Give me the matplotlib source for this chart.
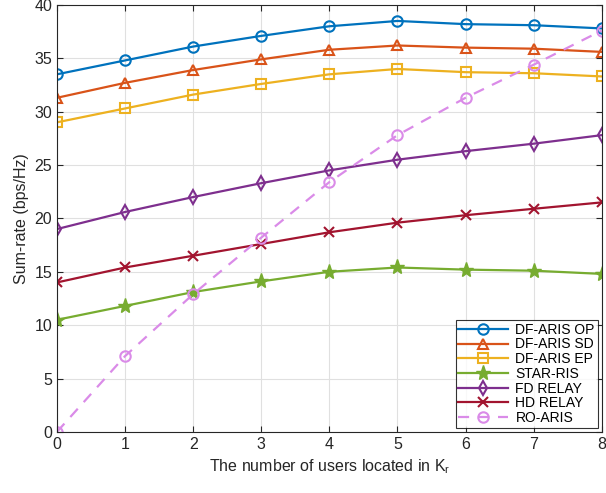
import matplotlib
matplotlib.use("Agg")
import matplotlib.pyplot as plt

plt.rcParams['font.family'] = ['Liberation Sans', 'DejaVu Sans']

users = [0, 1, 2, 3, 4, 5, 6, 7, 8]
df_op = [33.5, 34.8, 36.1, 37.1, 38.0, 38.5, 38.2, 38.1, 37.8]
df_sd = [31.3, 32.7, 33.9, 34.9, 35.8, 36.2, 36.0, 35.9, 35.6]
df_ep = [29.0, 30.3, 31.6, 32.6, 33.5, 34.0, 33.7, 33.6, 33.3]
star_ris = [10.5, 11.8, 13.1, 14.1, 15.0, 15.4, 15.2, 15.1, 14.8]
fd_relay = [19.0, 20.6, 22.0, 23.3, 24.5, 25.5, 26.3, 27.0, 27.8]
hd_relay = [14.0, 15.4, 16.5, 17.6, 18.7, 19.6, 20.3, 20.9, 21.5]
ro_aris = [0.0, 7.1, 12.9, 18.2, 23.4, 27.8, 31.3, 34.4, 37.6]

fig = plt.figure(figsize=(6.06, 4.93), dpi=100)
ax = fig.add_axes([0.094, 0.124, 0.899, 0.866])

kw = dict(linewidth=1.6, markersize=7.5, markerfacecolor='none', markeredgewidth=1.5)
ax.plot(users, df_op, '-o', color='#0072BD', label='DF-ARIS OP', **kw)
ax.plot(users, df_sd, '-^', color='#D95319', label='DF-ARIS SD', **kw)
ax.plot(users, df_ep, '-s', color='#EDB120', label='DF-ARIS EP', **kw)
ax.plot(users, star_ris, '-*', color='#77AC30', label='STAR-RIS', linewidth=1.6,
        markersize=11, markeredgewidth=1.0)
ax.plot(users, fd_relay, '-d', color='#7E2F8E', label='FD RELAY', **kw)
ax.plot(users, hd_relay, '-x', color='#A2142F', label='HD RELAY', **kw)
ax.plot(users, ro_aris, '--o', color='#DA8BE8', label='RO-ARIS', dashes=(5, 4), **kw)

ax.set_xlim(0, 8)
ax.set_ylim(0, 40)
ax.set_xticks(range(0, 9))
ax.set_yticks(range(0, 41, 5))
ax.tick_params(direction='in', top=True, right=True, labelsize=11.5, length=4,
               colors='#262626')
ax.grid(True, color='#e0e0e0', linewidth=0.8)
ax.set_axisbelow(True)
for s in ax.spines.values():
    s.set_color('#262626')
    s.set_linewidth(0.8)

ax.set_xlabel('The number of users located in K$_\\mathregular{r}$', fontsize=11.5,
              color='#262626')
ax.set_ylabel('Sum-rate (bps/Hz)', fontsize=11.5, color='#262626')

leg = ax.legend(loc='lower right', fontsize=10, fancybox=False, edgecolor='black',
                borderaxespad=0.3, handlelength=3.6, labelspacing=0.05, borderpad=0.2,
                handletextpad=0.5)
leg.get_frame().set_linewidth(0.8)

plt.savefig('out.png', dpi=100)
